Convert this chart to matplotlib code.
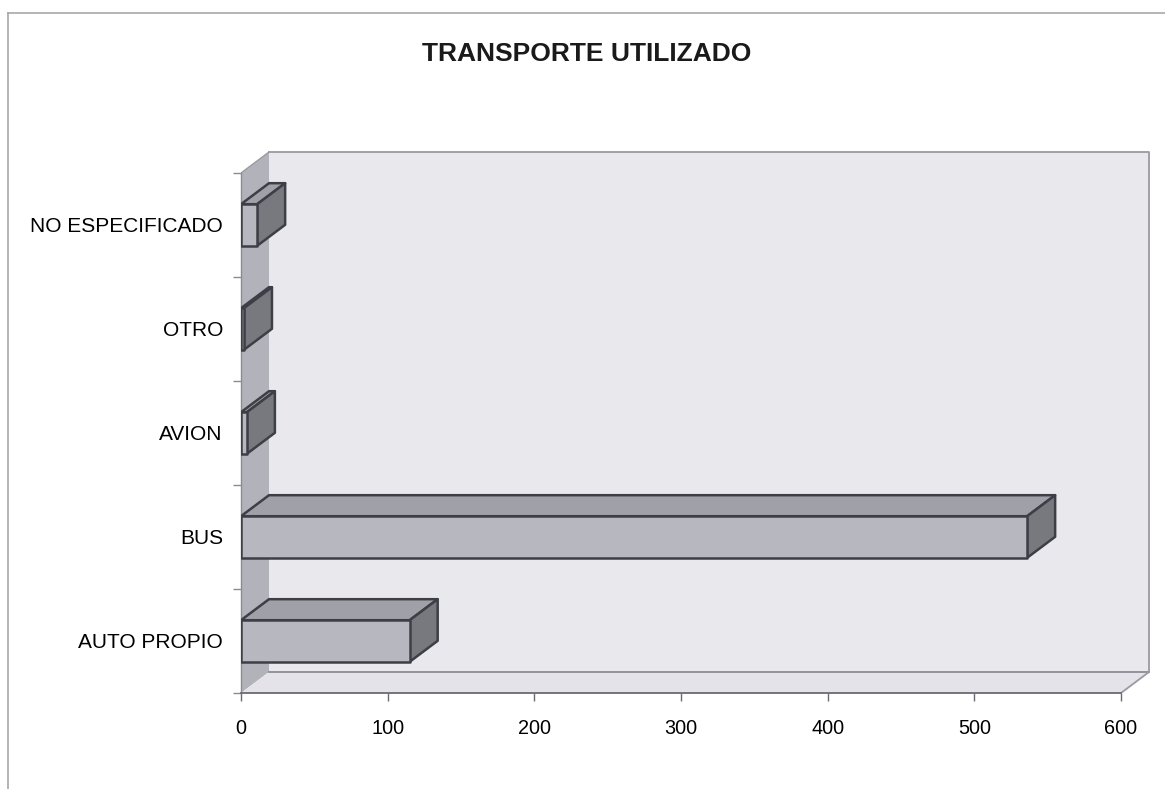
import matplotlib
matplotlib.use("Agg")
import matplotlib.pyplot as plt
from matplotlib.patches import Polygon
from matplotlib.lines import Line2D

# ---- data ----
categories = ["AUTO PROPIO", "BUS", "AVION", "OTRO", "NO ESPECIFICADO"]
values = [115, 536, 4, 2, 11]
x_ticks = [0, 100, 200, 300, 400, 500, 600]
title = "TRANSPORTE UTILIZADO"

plt.rcParams['font.family'] = ['Liberation Sans', 'DejaVu Sans']

W, H = 1165, 789
fig = plt.figure(figsize=(W / 100, H / 100), dpi=100)
fig.patch.set_facecolor("white")

# frame lines (left and top only visible)
fig.add_artist(Line2D([8 / W, 8 / W], [0, 1 - 13 / H], transform=fig.transFigure,
                      color="#a8a8a8", lw=1.2))
fig.add_artist(Line2D([8 / W, 1], [1 - 13 / H, 1 - 13 / H], transform=fig.transFigure,
                      color="#a8a8a8", lw=1.2))

ax = fig.add_axes([241 / W, 96 / H, 909 / W, 543 / H])
xmax = 600
dx = 19.1      # depth offset in x data units
dy = 0.202     # depth offset in category units
n = len(categories)
ax.set_xlim(0, 909 / (880 / 600))
ax.set_ylim(-0.5, -0.5 + 543 / 104)
ax.set_facecolor("none")

y0, y1 = -0.5, n - 0.5
wall_c = "#e8e8ed"
side_c = "#b2b2ba"
floor_c = "#e3e3e9"
edge_gray = "#9a9aa2"

# back wall
ax.add_patch(Polygon([(dx, y0 + dy), (xmax + dx, y0 + dy), (xmax + dx, y1 + dy), (dx, y1 + dy)],
                     closed=True, facecolor=wall_c, edgecolor="none", zorder=1))
# side wall
ax.add_patch(Polygon([(0, y0), (dx, y0 + dy), (dx, y1 + dy), (0, y1)],
                     closed=True, facecolor=side_c, edgecolor="none", zorder=1.1))
# floor
ax.add_patch(Polygon([(0, y0), (xmax, y0), (xmax + dx, y0 + dy), (dx, y0 + dy)],
                     closed=True, facecolor=floor_c, edgecolor="none", zorder=1.2))
# wall edges
ax.plot([dx, xmax + dx, xmax + dx], [y1 + dy, y1 + dy, y0 + dy], color=edge_gray, lw=1.3, zorder=1.3)
ax.plot([0, dx], [y1, y1 + dy], color=edge_gray, lw=1.0, zorder=1.3)
ax.plot([dx, xmax + dx], [y0 + dy, y0 + dy], color="#8c8c94", lw=1.3, zorder=1.3)
ax.plot([xmax, xmax + dx], [y0, y0 + dy], color=edge_gray, lw=1.3, zorder=1.3)

# bars (3D look)
h = 0.2
front_c = "#b7b7bf"
top_c = "#a0a0a8"
right_c = "#78787f"
bar_edge = "#3e3e46"
for i, v in enumerate(values):
    yc = i
    ax.add_patch(Polygon([(0, yc + h), (v, yc + h), (v + dx, yc + h + dy), (dx, yc + h + dy)],
                         closed=True, facecolor=top_c, edgecolor=bar_edge, lw=1.8,
                         joinstyle="round", zorder=3))
    ax.add_patch(Polygon([(v, yc - h), (v + dx, yc - h + dy), (v + dx, yc + h + dy), (v, yc + h)],
                         closed=True, facecolor=right_c, edgecolor=bar_edge, lw=1.8,
                         joinstyle="round", zorder=3))
    ax.add_patch(Polygon([(0, yc - h), (v, yc - h), (v, yc + h), (0, yc + h)],
                         closed=True, facecolor=front_c, edgecolor=bar_edge, lw=1.8,
                         joinstyle="round", zorder=3.1))

# axes / ticks
for s in ["top", "right"]:
    ax.spines[s].set_visible(False)
ax.spines["bottom"].set_bounds(0, xmax)
ax.spines["bottom"].set_color("#6a6a72")
ax.spines["bottom"].set_linewidth(1.3)
ax.spines["left"].set_bounds(y0, y1)
ax.spines["left"].set_color("#8a8a92")
ax.spines["left"].set_linewidth(1.0)

ax.set_xticks(x_ticks)
ax.set_xticklabels([str(t) for t in x_ticks], fontsize=14.3)
ax.tick_params(axis="x", direction="out", length=6, width=1.0, color="#6a6a72", pad=12.5)

ax.set_yticks(range(n))
ax.set_yticklabels(categories, fontsize=15)
ax.set_yticks([k - 0.5 for k in range(n + 1)], minor=True)
ax.tick_params(axis="y", which="major", length=0, pad=13)
ax.tick_params(axis="y", which="minor", direction="out", length=6, width=1.0, color="#8a8a92")

fig.text(587 / W, 1 - 54 / H, title, ha="center", va="center", fontsize=19,
         fontweight="bold", color="#1a1a1a")

fig.savefig("out.png", dpi=100, facecolor="white")
